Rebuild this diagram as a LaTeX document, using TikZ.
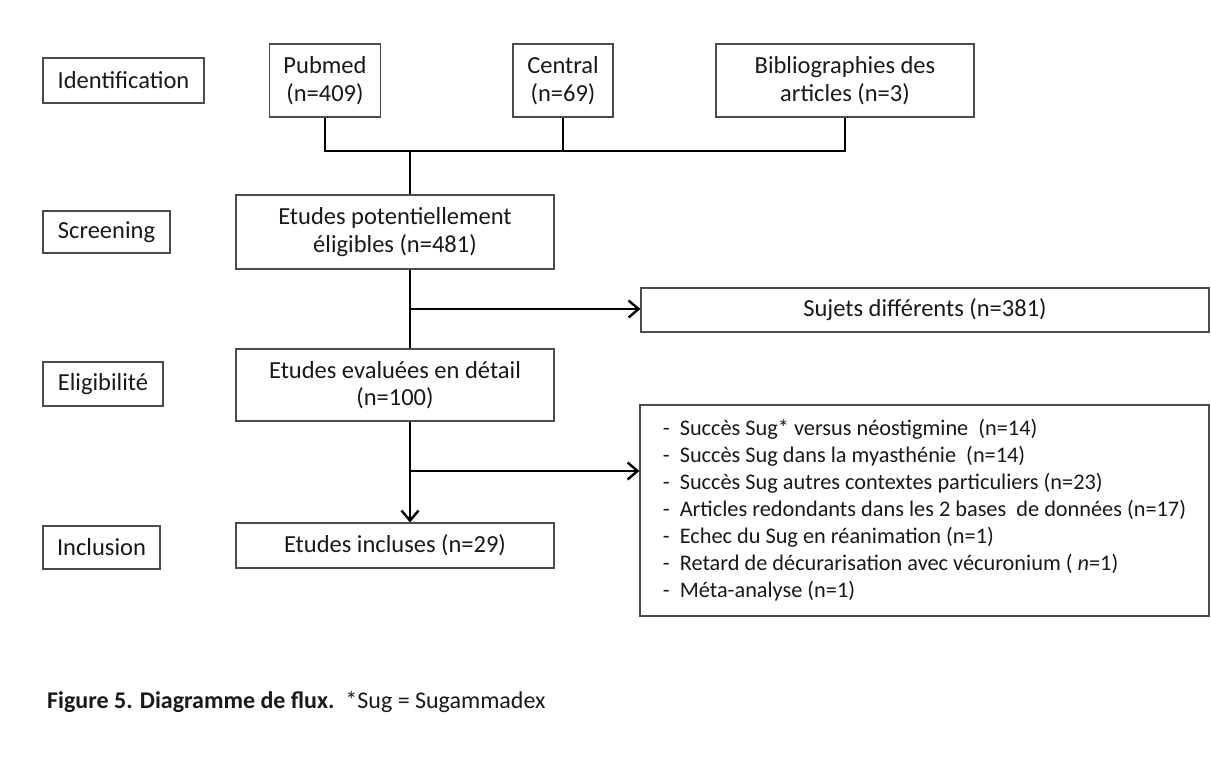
\documentclass[tikz,border=0pt]{standalone}
\usepackage{fontspec}
\setmainfont{Carlito}
\usetikzlibrary{arrows.meta}
\begin{document}
\begin{tikzpicture}[x=1pt,y=-1pt,
  box/.style={draw=black!70, line width=1.2pt, inner sep=0pt, align=center,
    font=\fontsize{24.5}{27.5}\selectfont, text=black!90},
  conn/.style={line width=2.8pt, black, line join=miter},
  arr/.style={conn, -{Straight Barb[length=10pt,width=17pt,line width=2.4pt]}}]
\useasboundingbox[fill=white] (0,0) rectangle (1211,769);
% stage labels
\node[box, minimum width=161pt, minimum height=45pt] (ident)  at (123.5,80.5) {Identification};
\node[box, minimum width=127pt, minimum height=42pt] (screen) at (106.5,232) {Screening};
\node[box, minimum width=120pt, minimum height=44pt] (elig)   at (103,384) {Eligibilité};
\node[box, minimum width=117pt, minimum height=43pt] (incl)   at (101.5,547.5) {Inclusion};
% sources
\node[box, minimum width=111pt, minimum height=73pt] (pubmed)  at (325,80.5) {Pubmed\\(n=409)};
\node[box, minimum width=100pt, minimum height=73pt] (central) at (563,80.5) {Central\\(n=69)};
\node[box, minimum width=258pt, minimum height=73pt] (biblio)  at (845,80.5) {Bibliographies des\\articles (n=3)};
% main flow
\node[box, minimum width=318pt, minimum height=74pt] (etpot)  at (395,232) {Etudes potentiellement\\éligibles (n=481)};
\node[box, minimum width=568pt, minimum height=44pt] (sujets) at (925,310) {Sujets différents (n=381)};
\node[box, minimum width=318pt, minimum height=72pt] (eteval) at (395,385) {Etudes evaluées en détail\\(n=100)};
\node[box, minimum width=318pt, minimum height=45pt] (etincl) at (395,545.5) {Etudes incluses (n=29)};
\node[box, minimum width=569pt, minimum height=211pt, align=left,
  font=\fontsize{22.3}{27}\selectfont] (excl) at (924.5,510.5)
  {-\ \ Succès Sug* versus néostigmine\ \ (n=14)\\
   -\ \ Succès Sug dans la myasthénie\ \ (n=14)\\
   -\ \ Succès Sug autres contextes particuliers (n=23)\\
   -\ \ Articles redondants dans les 2 bases\ \ de données (n=17)\\
   -\ \ Echec du Sug en réanimation (n=1)\\
   -\ \ Retard de décurarisation avec vécuronium ( \textit{n}=1)\\
   -\ \ Méta-analyse (n=1)};
% connectors
\coordinate (j1) at (410,151);
\coordinate (b1) at (410,309);
\coordinate (b2) at (410,471);
\draw[conn] (pubmed.south) |- (j1);
\draw[conn] (biblio.south) |- (j1);
\draw[conn] (central.south) -- (central.south |- j1);
\draw[conn] (j1) -- (j1 |- etpot.north);
\draw[conn] (j1 |- etpot.south) -- (j1 |- eteval.north);
\draw[arr] (b1) -- (b1 -| sujets.west);
\draw[arr] (j1 |- eteval.south) -- (j1 |- etincl.north);
\draw[arr] (b2) -- (b2 -| excl.west);
% caption
\node[anchor=west, inner sep=0pt, font=\fontsize{24}{28}\selectfont, text=black!90] (caption) at (47,702)
  {\textbf{Figure 5. Diagramme de flux.}\ \ *Sug = Sugammadex};
\end{tikzpicture}
\end{document}
